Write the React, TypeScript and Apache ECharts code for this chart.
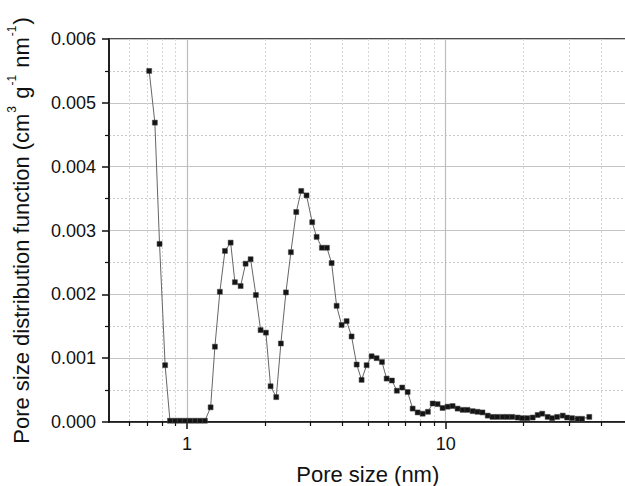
import React, { useEffect, useRef } from "react";
import * as echarts from "echarts";

const poreSize = [
  0.715, 0.752, 0.784, 0.824, 0.86, 0.899, 0.939, 0.982, 1.027, 1.074, 1.123, 1.174,
  1.235, 1.283, 1.341, 1.403, 1.476, 1.533, 1.613, 1.686, 1.763, 1.848, 1.927, 2.02,
  2.106, 2.215, 2.308, 2.414, 2.523, 2.646, 2.766, 2.9, 3.05, 3.172, 3.325, 3.477,
  3.625, 3.79, 3.963, 4.143, 4.33, 4.53, 4.734, 4.95, 5.175, 5.41, 5.674, 5.915,
  6.2, 6.48, 6.795, 7.13, 7.455, 7.795, 8.15, 8.54, 8.91, 9.31, 9.73, 10.18,
  10.64, 11.12, 11.63, 12.15, 12.72, 13.28, 13.88, 14.54, 15.17, 15.85, 16.61, 17.32,
  18.1, 18.98, 19.78, 20.68, 21.7, 22.68, 23.62, 24.79, 25.8, 26.97, 28.34, 29.47,
  30.8, 32.37, 33.66, 35.91,
];

const psd = [
  0.0055, 0.00469, 0.00279, 0.00089, 0.00002, 0.00002, 0.00002, 0.00002, 0.00002, 0.00002, 0.00002, 0.00002,
  0.00023, 0.00118, 0.00204, 0.00268, 0.00281, 0.00219, 0.00213, 0.00248, 0.00255, 0.00199, 0.00144, 0.0014,
  0.00056, 0.00039, 0.00123, 0.00203, 0.00266, 0.00329, 0.00362, 0.00355, 0.00313, 0.0029, 0.00273, 0.00273,
  0.00249, 0.00182, 0.00152, 0.00158, 0.00134, 0.0009, 0.00066, 0.00089, 0.00103, 0.001, 0.00094, 0.00068,
  0.00065, 0.00049, 0.00054, 0.00047, 0.00021, 0.00015, 0.00013, 0.00016, 0.00029, 0.00028, 0.00022, 0.00024,
  0.00025, 0.00021, 0.00019, 0.00019, 0.00017, 0.00016, 0.00015, 0.0001, 0.00008, 0.00008, 0.00008, 0.00008,
  0.00008, 0.00007, 0.00006, 0.00006, 0.00007, 0.00011, 0.00013, 0.00008, 0.00006, 0.00008, 0.0001, 0.00007,
  0.00006, 0.00005, 0.00005, 0.00008,
];

const xMajorTicks = [1, 10];
const xMinorTicks = [0.6, 0.7, 0.8, 0.9, 2, 3, 4, 5, 6, 7, 8, 9, 20, 30, 40];

const FONT = "'Liberation Sans', Arial, Helvetica, sans-serif";

export default function App() {
  const ref = useRef<HTMLDivElement>(null);
  useEffect(() => {
    if (!ref.current) return;
    const chart = echarts.init(ref.current, undefined, { renderer: "svg" });
    const data = poreSize.map((x, i) => [x, psd[i]]);
    chart.setOption({
      animation: false,
      backgroundColor: "#fff",
      grid: {
        left: 109,
        top: 39,
        right: -1.5,
        bottom: 64,
        containLabel: false,
        outerBoundsMode: "none",
        show: true,
        borderColor: "#111",
        borderWidth: 1.5,
        backgroundColor: "transparent",
      },
      xAxis: [
        {
          type: "log",
          logBase: 10,
          min: 0.5,
          max: 50,
          position: "bottom",
          name: "Pore size (nm)",
          nameLocation: "middle",
          nameGap: 41,
          nameTextStyle: { fontFamily: FONT, fontSize: 22, color: "#111" },
          axisLine: { show: true, lineStyle: { color: "#111", width: 1.5 } },
          axisTick: { show: true, inside: false, length: 7, customValues: xMajorTicks, lineStyle: { color: "#111", width: 1.5 } },
          axisLabel: { customValues: xMajorTicks, fontFamily: FONT, fontSize: 18, color: "#111", margin: 13, formatter: (v: number) => String(v) },
          splitLine: { show: true, lineStyle: { color: "#bdbdbd", width: 1.2, type: "solid" } },
          minorTick: { show: false },
        },
        {
          type: "log",
          logBase: 10,
          min: 0.5,
          max: 50,
          position: "bottom",
          axisLine: { show: false },
          axisTick: { show: true, inside: false, length: 4, customValues: xMinorTicks, lineStyle: { color: "#111", width: 1.2 } },
          axisLabel: { show: false },
          splitLine: { show: true, lineStyle: { color: "#d6d6d6", width: 1, type: [2, 2] } },
        },
      ],
      yAxis: {
        type: "value",
        min: 0,
        max: 0.006,
        interval: 0.001,
        axisLine: { show: true, lineStyle: { color: "#111", width: 1.5 } },
        axisTick: { show: true, inside: false, length: 7, lineStyle: { color: "#111", width: 1.5 } },
        minorTick: { show: true, splitNumber: 2, length: 4, lineStyle: { color: "#111", width: 1.2 } },
        axisLabel: { fontFamily: FONT, fontSize: 18, color: "#111", margin: 13, formatter: (v: number) => v.toFixed(3) },
        splitLine: { show: true, lineStyle: { color: "#c4c4c4", width: 1.2 } },
        minorSplitLine: { show: true, lineStyle: { color: "#c8c8c8", width: 1, type: [2, 2] } },
        name: "{a|Pore size distribution function (cm}{s|3}{a| g}{s|-1}{a| nm}{s|-1}{a|)}",
        nameLocation: "middle",
        nameGap: 77,
        nameRotate: 90,
        nameTextStyle: {
          fontFamily: FONT,
          fontSize: 22,
          color: "#111",
          rich: {
            a: { fontFamily: FONT, fontSize: 22, color: "#111", lineHeight: 26, verticalAlign: "bottom" },
            s: { fontFamily: FONT, fontSize: 12, color: "#111", lineHeight: 26, verticalAlign: "top", padding: [0, 1, 0, 1] },
          },
        },
      },
      series: [
        {
          type: "line",
          data,
          xAxisIndex: 0,
          yAxisIndex: 0,
          symbol: "rect",
          symbolSize: 5,
          showAllSymbol: true,
          itemStyle: { color: "#141414", borderColor: "#444", borderWidth: 0.5 },
          lineStyle: { color: "#666", width: 1 },
          emphasis: { disabled: true },
          clip: true,
        },
      ],
    });
    return () => chart.dispose();
  }, []);
  return <div ref={ref} style={{ width: 625, height: 486, position: "absolute", left: 0, top: 0 }} />;
}
